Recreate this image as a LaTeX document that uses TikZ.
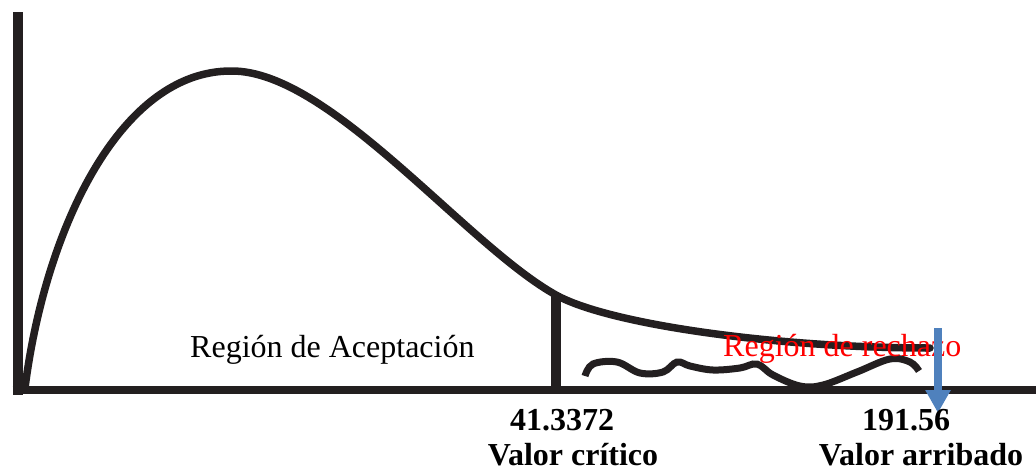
\documentclass[tikz,border=0pt]{standalone}
\usepackage{fontspec}
\setmainfont{Liberation Serif}
\usetikzlibrary{arrows.meta}
\definecolor{ink}{HTML}{231F20}
\definecolor{arrowblue}{HTML}{4F81BD}
\begin{document}
\begin{tikzpicture}[x=1pt,y=-1pt,
  axisline/.style={draw=ink,line width=10pt},
  curveline/.style={draw=ink,line width=7.5pt,line cap=round},
  lbl/.style={inner sep=0pt,font=\fontsize{32}{38}\selectfont},
  blbl/.style={inner sep=0pt,font=\fontsize{32}{38}\selectfont\bfseries}]
\useasboundingbox (0,0) rectangle (1036,472);
% axes
\coordinate (top) at (17.5,12);
\coordinate (orig) at (17.5,390);
\coordinate (xend) at (1036,390);
\draw[axisline] (top) -- (17.5,395);
\draw[draw=ink,line width=8pt] (12.5,390) -- (xend);
% density curve
\coordinate (c0) at (25,388);
\coordinate (peak) at (232,71);
\coordinate (cc) at (556,295);
\coordinate (tail) at (930,348);
\draw[curveline] (c0) .. controls (45,230) and (120,70) .. (peak)
  .. controls (330,71) and (466,245) .. (cc)
  .. controls (610,325) and (780,348) .. (tail);
% critical value line
\coordinate (crit) at (556,390);
\coordinate (critTop) at (556,293);
\draw[draw=ink,line width=10pt] (crit) -- (critTop);
% wavy line
\draw[draw=ink,line width=7pt] plot[smooth,tension=0.6] coordinates {
 (585,376) (593,364) (617,362) (640,373) (663,372) (677,362) (690,366)
 (713,370) (740,368) (757,364) (773,375) (800,386) (823,385) (857,372)
 (890,359) (910,362) (919,371)};
% labels
\node[lbl,anchor=base west] (acc) at (190,357) {Región de Aceptación};
\node[lbl,anchor=base west,text=red] (rej) at (723,356) {Región de rechazo};
% arrow
\coordinate (arrS) at (938,328);
\coordinate (arrE) at (938,413);
\draw[draw=arrowblue,line width=8pt,-{Triangle[width=24pt,length=23pt]},fill=arrowblue] (arrS) -- (arrE);
\node[blbl,anchor=base] (cv) at (562,430) {41.3372};
\node[blbl,anchor=base] (cvt) at (573,465) {Valor crítico};
\node[blbl,anchor=base] (av) at (906,430) {191.56};
\node[blbl,anchor=base] (avt) at (921,465) {Valor arribado};
\end{tikzpicture}
\end{document}
